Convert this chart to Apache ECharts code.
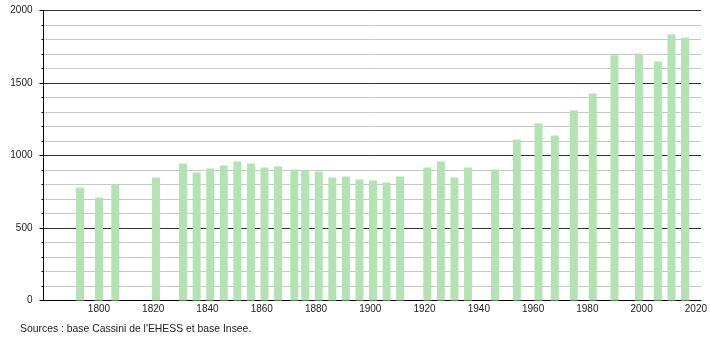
<!DOCTYPE html>
<html><head><meta charset="utf-8">
<script src="https://cdn.jsdelivr.net/npm/echarts@6/dist/echarts.min.js"></script>
<style>html,body{margin:0;padding:0;background:#fff}#c{width:710px;height:340px}</style>
</head><body><div id="c"></div>
<script>
const years = [1793,1800,1806,1821,1831,1836,1841,1846,1851,1856,1861,1866,1872,1876,1881,1886,1891,1896,1901,1906,1911,1921,1926,1931,1936,1946,1954,1962,1968,1975,1982,1990,1999,2006,2011,2016];
const population = [779,710,800,848,945,883,910,931,959,945,917,924,903,897,890,848,855,834,828,814,855,917,959,848,917,903,1110,1221,1138,1310,1428,1692,1703,1648,1834,1814];
const yTicks = [0,500,1000,1500,2000];
const xTicks = [1800,1820,1840,1860,1880,1900,1920,1940,1960,1980,2000,2020];
const sourceText = "Sources : base Cassini de l'EHESS et base Insee.";

const font = '"Liberation Sans", Arial, sans-serif';
const chart = echarts.init(document.getElementById('c'), null, {renderer:'canvas'});
chart.setOption({
  animation:false,
  grid:[
    {left:43.5, right:9, top:10.5, bottom:39.5},
    {left:44.7, width:651.8, top:10.5, bottom:39.5}
  ],
  xAxis:[
    {gridIndex:0, type:'value', min:0, max:1, show:true,
      axisLine:{show:true, lineStyle:{color:'#000', width:1}},
      axisTick:{show:false}, axisLabel:{show:false}, splitLine:{show:false}},
    {gridIndex:1, type:'value', min:1780, max:2020, interval:20,
      axisLine:{show:false}, axisTick:{show:false}, splitLine:{show:false},
      axisLabel:{show:true, margin:4, color:'#222', fontSize:10, fontFamily:font,
        formatter:v=> xTicks.includes(v) ? String(v) : ''}}
  ],
  yAxis:[
    {gridIndex:0, type:'value', min:yTicks[0], max:yTicks[yTicks.length-1], interval:500,
      axisLine:{show:true, lineStyle:{color:'#000', width:1}},
      axisTick:{show:true, length:4, lineStyle:{color:'#000'}},
      minorTick:{show:true, splitNumber:5, length:2, lineStyle:{color:'#000'}},
      splitLine:{show:true, lineStyle:{color:'#333', width:1}},
      minorSplitLine:{show:true, lineStyle:{color:'#c8c8c8', width:1}},
      axisLabel:{margin:11, color:'#222', fontSize:10, fontFamily:font, padding:[6,0,0,0],
        formatter:v=> yTicks.includes(v) ? String(v) : ''}},
    {gridIndex:1, type:'value', min:0, max:2000, show:false, splitLine:{show:false}}
  ],
  series:[{
    type:'bar', xAxisIndex:1, yAxisIndex:1,
    data: years.map((y,i)=>[y, population[i]]),
    barWidth:8, itemStyle:{color:'#b3e3b3'}, z:5
  }],
  graphic:[{type:'text', left:20, top:324, style:{text:sourceText, font:'10.4px '+font, fill:'#222'}}]
});
</script></body></html>
